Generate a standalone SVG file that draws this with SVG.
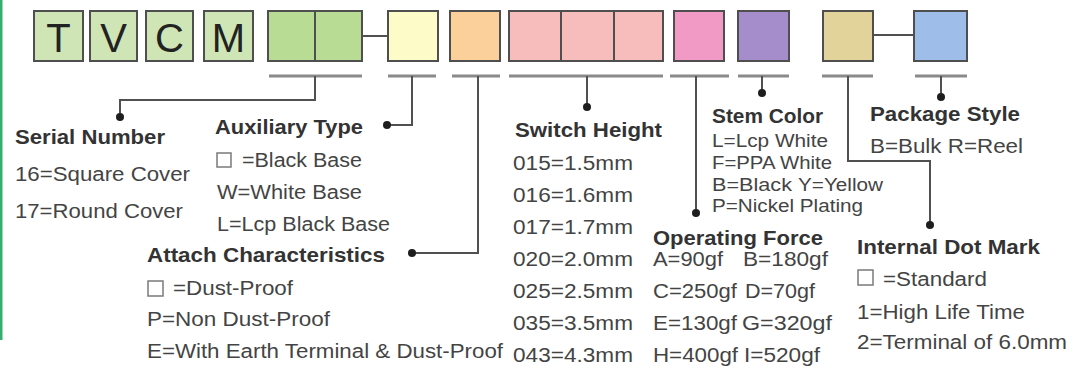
<svg xmlns="http://www.w3.org/2000/svg" width="1091" height="369" viewBox="0 0 1091 369">
<style>
.box{stroke:#4f4f4f;stroke-width:2}
.ul{stroke:#8a8a8a;stroke-width:3;fill:none}
.ln{stroke:#505050;stroke-width:2;fill:none}
.dot{fill:#1e1e1e}
.big{font-family:"Liberation Sans",Arial,sans-serif;font-size:40px;fill:#222;text-anchor:middle}
.h{font-family:"Liberation Sans",Arial,sans-serif;font-size:21px;font-weight:bold;fill:#333}
.t{font-family:"Liberation Sans",Arial,sans-serif;font-size:20px;fill:#444}
.s{font-family:"Liberation Sans",Arial,sans-serif;font-size:17.5px;fill:#444}
.sq{fill:none;stroke:#7a7a7a;stroke-width:1.5}
</style>
<rect x="0" y="0" width="1091" height="369" fill="#ffffff"/>
<rect x="0" y="0" width="2.5" height="340" fill="#34b06e"/>

<g id="code">
<g id="box-T"><rect class="box" x="34" y="11" width="49" height="50" fill="#cfe5b5"/><text class="big" x="58.5" y="52">T</text></g>
<g id="box-V"><rect class="box" x="90" y="11" width="47" height="50" fill="#cfe5b5"/><text class="big" x="113.5" y="52">V</text></g>
<g id="box-C"><rect class="box" x="146" y="11" width="47" height="50" fill="#cfe5b5"/><text class="big" x="169.5" y="52">C</text></g>
<g id="box-M"><rect class="box" x="204" y="11" width="49" height="50" fill="#cfe5b5"/><text class="big" x="228.5" y="52">M</text></g>
<g id="box-serial"><rect class="box" x="268" y="11" width="47" height="50" fill="#b9dc94"/><rect class="box" x="315" y="11" width="47" height="50" fill="#b9dc94"/></g>
<g id="box-aux"><rect class="box" x="388" y="11" width="50" height="50" fill="#fdfbc8"/></g>
<g id="box-attach"><rect class="box" x="450" y="11" width="50" height="50" fill="#fcd09a"/></g>
<g id="box-height"><rect class="box" x="509" y="11" width="52" height="50" fill="#f7bcbc"/><rect class="box" x="561" y="11" width="53" height="50" fill="#f7bcbc"/><rect class="box" x="614" y="11" width="49" height="50" fill="#f7bcbc"/></g>
<g id="box-force"><rect class="box" x="674" y="11" width="50" height="50" fill="#f29ac6"/></g>
<g id="box-stem"><rect class="box" x="738" y="11" width="51" height="50" fill="#a58ccb"/></g>
<g id="box-dot"><rect class="box" x="823" y="11" width="50" height="50" fill="#e2d39a"/></g>
<g id="box-package"><rect class="box" x="914" y="11" width="53" height="50" fill="#9ebde8"/></g>
</g>

<g id="connectors">
<line class="ln" x1="362" y1="36" x2="388" y2="36"/>
<line class="ln" x1="873" y1="35" x2="914" y2="35"/>
<line class="ul" x1="269" y1="76" x2="362" y2="76"/>
<line class="ul" x1="388" y1="76" x2="436" y2="76"/>
<line class="ul" x1="452" y1="76" x2="500" y2="76"/>
<line class="ul" x1="509" y1="76" x2="663" y2="76"/>
<line class="ul" x1="670" y1="76" x2="729" y2="76"/>
<line class="ul" x1="738" y1="76" x2="789" y2="76"/>
<line class="ul" x1="822" y1="76" x2="873" y2="76"/>
<line class="ul" x1="915" y1="76" x2="967" y2="76"/>
<path class="ln" d="M315,76 V100 H120 V117"/>
<path class="ln" d="M412,76 V125 H387"/>
<path class="ln" d="M478,76 V253 H412"/>
<path class="ln" d="M587,76 V107"/>
<path class="ln" d="M696,76 V213"/>
<path class="ln" d="M762,76 V93"/>
<path class="ln" d="M848,76 V161 H930 V225"/>
<path class="ln" d="M941,76 V97"/>
<circle class="dot" cx="120" cy="117" r="4"/>
<circle class="dot" cx="387" cy="125" r="4"/>
<circle class="dot" cx="412" cy="253" r="4"/>
<circle class="dot" cx="587" cy="107" r="4"/>
<circle class="dot" cx="696" cy="213" r="4"/>
<circle class="dot" cx="762" cy="93" r="4"/>
<circle class="dot" cx="930" cy="225" r="4"/>
<circle class="dot" cx="941" cy="97" r="4"/>
</g>

<g id="serial-number">
<text class="h" x="15" y="144" textLength="150" lengthAdjust="spacingAndGlyphs">Serial Number</text>
<text class="t" x="15" y="181" textLength="175" lengthAdjust="spacingAndGlyphs">16=Square Cover</text>
<text class="t" x="15" y="218" textLength="168" lengthAdjust="spacingAndGlyphs">17=Round Cover</text>
</g>

<g id="auxiliary-type">
<text class="h" x="215" y="134" textLength="148" lengthAdjust="spacingAndGlyphs">Auxiliary Type</text>
<rect class="sq" x="217" y="153" width="14" height="14"/>
<text class="t" x="242" y="167" textLength="120" lengthAdjust="spacingAndGlyphs">=Black Base</text>
<text class="t" x="217" y="199" textLength="145" lengthAdjust="spacingAndGlyphs">W=White Base</text>
<text class="t" x="217" y="231" textLength="173" lengthAdjust="spacingAndGlyphs">L=Lcp Black Base</text>
</g>

<g id="attach-characteristics">
<text class="h" x="147" y="262" textLength="238" lengthAdjust="spacingAndGlyphs">Attach Characteristics</text>
<rect class="sq" x="148" y="281" width="15" height="15"/>
<text class="t" x="173" y="295" textLength="120" lengthAdjust="spacingAndGlyphs">=Dust-Proof</text>
<text class="t" x="147" y="326" textLength="183" lengthAdjust="spacingAndGlyphs">P=Non Dust-Proof</text>
<text class="t" x="147" y="358" textLength="356" lengthAdjust="spacingAndGlyphs">E=With Earth Terminal &amp; Dust-Proof</text>
</g>

<g id="switch-height">
<text class="h" x="515" y="137" textLength="147" lengthAdjust="spacingAndGlyphs">Switch Height</text>
<text class="t" x="513" y="170" textLength="120" lengthAdjust="spacingAndGlyphs">015=1.5mm</text>
<text class="t" x="513" y="202" textLength="120" lengthAdjust="spacingAndGlyphs">016=1.6mm</text>
<text class="t" x="513" y="234" textLength="120" lengthAdjust="spacingAndGlyphs">017=1.7mm</text>
<text class="t" x="513" y="266" textLength="120" lengthAdjust="spacingAndGlyphs">020=2.0mm</text>
<text class="t" x="513" y="298" textLength="120" lengthAdjust="spacingAndGlyphs">025=2.5mm</text>
<text class="t" x="513" y="330" textLength="120" lengthAdjust="spacingAndGlyphs">035=3.5mm</text>
<text class="t" x="513" y="362" textLength="120" lengthAdjust="spacingAndGlyphs">043=4.3mm</text>
</g>

<g id="stem-color">
<text class="h" x="712" y="123" textLength="111" lengthAdjust="spacingAndGlyphs">Stem Color</text>
<text class="s" x="712" y="147" textLength="116" lengthAdjust="spacingAndGlyphs">L=Lcp White</text>
<text class="s" x="712" y="169" textLength="120" lengthAdjust="spacingAndGlyphs">F=PPA White</text>
<text class="s" x="712" y="191" textLength="80" lengthAdjust="spacingAndGlyphs">B=Black</text>
<text class="s" x="798" y="191" textLength="85" lengthAdjust="spacingAndGlyphs">Y=Yellow</text>
<text class="s" x="712" y="212" textLength="151" lengthAdjust="spacingAndGlyphs">P=Nickel Plating</text>
</g>

<g id="operating-force">
<text class="h" x="653" y="245" textLength="170" lengthAdjust="spacingAndGlyphs">Operating Force</text>
<text class="t" x="653" y="266" textLength="70" lengthAdjust="spacingAndGlyphs">A=90gf</text>
<text class="t" x="743" y="266" textLength="85" lengthAdjust="spacingAndGlyphs">B=180gf</text>
<text class="t" x="653" y="298" textLength="84" lengthAdjust="spacingAndGlyphs">C=250gf</text>
<text class="t" x="745" y="298" textLength="70" lengthAdjust="spacingAndGlyphs">D=70gf</text>
<text class="t" x="653" y="330" textLength="84" lengthAdjust="spacingAndGlyphs">E=130gf</text>
<text class="t" x="742" y="330" textLength="90" lengthAdjust="spacingAndGlyphs">G=320gf</text>
<text class="t" x="653" y="362" textLength="85" lengthAdjust="spacingAndGlyphs">H=400gf</text>
<text class="t" x="744" y="362" textLength="76" lengthAdjust="spacingAndGlyphs">I=520gf</text>
</g>

<g id="internal-dot-mark">
<text class="h" x="857" y="254" textLength="183" lengthAdjust="spacingAndGlyphs">Internal Dot Mark</text>
<rect class="sq" x="858" y="270" width="15" height="15"/>
<text class="t" x="883" y="286" textLength="104" lengthAdjust="spacingAndGlyphs">=Standard</text>
<text class="t" x="857" y="319" textLength="168" lengthAdjust="spacingAndGlyphs">1=High Life Time</text>
<text class="t" x="857" y="349" textLength="210" lengthAdjust="spacingAndGlyphs">2=Terminal of 6.0mm</text>
</g>

<g id="package-style">
<text class="h" x="870" y="121" textLength="150" lengthAdjust="spacingAndGlyphs">Package Style</text>
<text class="t" x="870" y="153" textLength="153" lengthAdjust="spacingAndGlyphs">B=Bulk R=Reel</text>
</g>
</svg>
